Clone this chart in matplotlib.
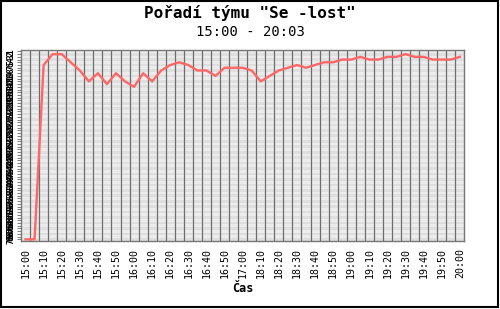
import numpy as np
import matplotlib
matplotlib.use('Agg')
import matplotlib.pyplot as plt
from matplotlib.patches import Rectangle

params = {'font.family': 'DejaVu Sans Mono',
          'font.size': 7,
          'axes.linewidth': 1.0,
          'figure.dpi': 100,
          'savefig.dpi': 100,
         }
plt.rcParams.update(params)

# times of the samples (gap between 17:00 and 18:05)
casy = ["15:00", "15:05", "15:10", "15:15", "15:20", "15:25", "15:30", "15:35",
        "15:40", "15:45", "15:50", "15:55", "16:00", "16:05", "16:10", "16:15",
        "16:20", "16:25", "16:30", "16:35", "16:40", "16:45", "16:50", "16:55",
        "17:00", "18:05", "18:10", "18:15", "18:20", "18:25", "18:30", "18:35",
        "18:40", "18:45", "18:50", "18:55", "19:00", "19:05", "19:10", "19:15",
        "19:20", "19:25", "19:30", "19:35", "19:40", "19:45", "19:50", "19:55",
        "20:00"]

# rank of the team in each sample
poradi = [70, 70, 6, 2, 2, 5, 8, 12, 9, 13, 9, 12, 14, 9, 12, 8,
          6, 5, 6, 8, 8, 10, 7, 7, 7, 8, 12, 10, 8, 7, 6, 7,
          6, 5, 5, 4, 4, 3, 4, 4, 3, 3, 2, 3, 3, 4, 4, 4, 3]

pocet_tymu = 70

fig = plt.figure(figsize=(5.0, 3.09))
ax = fig.add_axes([0.042, 0.221, 0.8866, 0.617])

x = np.arange(len(casy))

# striped background, one band per rank
for r in range(1, pocet_tymu + 1):
    c = '#ececec' if r % 2 else '#dfdfdf'
    ax.axhspan(r - 0.5, r + 0.5, color=c, lw=0, zorder=0)

# vertical grid between samples
for g in np.arange(0.5, len(casy) - 1, 1.0):
    ax.axvline(g, color='#6e6e6e', lw=0.9, zorder=1)

ax.plot(x, poradi, '-', color='#ff6666', lw=1.7, zorder=3)

ax.set_xlim(-0.5, len(casy) - 0.5)
ax.set_ylim(pocet_tymu + 0.5, 0.5)

ax.set_xticks(x[::2])
ax.set_xticklabels(casy[::2], rotation=90, fontsize=7.2)
ax.tick_params(axis='x', length=0, pad=5)

ax.set_yticks(np.arange(1, pocet_tymu + 1))
ax.set_yticklabels([str(i) for i in range(1, pocet_tymu + 1)], rotation=90,
                   fontsize=5.5, va='center', fontweight='bold')
ax.tick_params(axis='y', length=3, width=0.6, color='#666666', pad=1)

for s in ax.spines.values():
    s.set_color('#777777')

ax.set_xlabel('Čas', fontsize=8.5, fontweight='bold', labelpad=3)

fig.text(0.5, 0.957, 'Pořadí týmu "Se -lost"', ha='center', va='center',
         fontsize=11.5, fontweight='bold')
fig.text(0.5, 0.895, '15:00 - 20:03', ha='center', va='center', fontsize=10)

# outer frame
fig.patches.append(Rectangle((0.001, 0.006), 0.994, 0.99, transform=fig.transFigure,
                             fill=False, edgecolor='black', lw=1.5))

fig.savefig('out.png', dpi=100)
